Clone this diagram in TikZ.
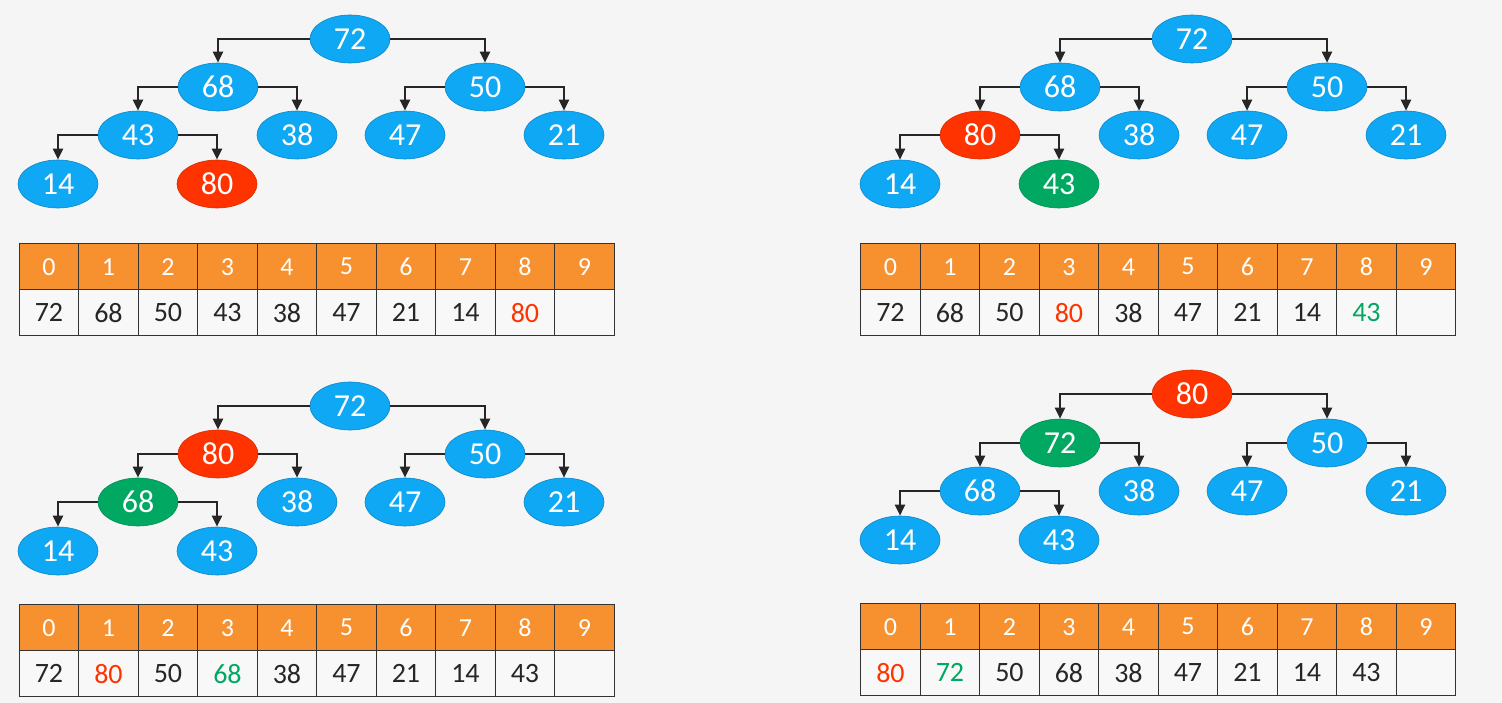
\documentclass[tikz,border=0pt]{standalone}
\usepackage{fontspec}
\setmainfont{Carlito}
\usetikzlibrary{shapes.geometric,arrows.meta}
\definecolor{sfondo}{HTML}{F5F5F5}
\definecolor{blu}{HTML}{0FA8F5}
\definecolor{rosso}{HTML}{FF3300}
\definecolor{verde}{HTML}{00A862}
\definecolor{arancio}{HTML}{F7912F}
\definecolor{bordo}{HTML}{333333}
\definecolor{cella}{HTML}{F8F8F8}
\tikzset{
  nodo/.style={ellipse,minimum width=80pt,minimum height=48pt,inner sep=0pt,
    fill=blu,draw=blu!80!black,line width=0.6pt,text=white,
    font=\fontsize{32}{36}\selectfont},
  nodorosso/.style={nodo,fill=rosso,draw=rosso!85!black},
  nodoverde/.style={nodo,fill=verde,draw=verde!85!black},
  arco/.style={line width=2.4pt,draw=black!85,-{Triangle[length=11pt,width=10pt]}},
  testa/.style={rectangle,anchor=north west,minimum width=59.5pt,minimum height=46pt,
    inner sep=0pt,fill=arancio,draw=bordo,line width=1.4pt,text=white,
    font=\fontsize{26}{30}\selectfont},
  valore/.style={testa,fill=cella,text=black!85,font=\fontsize{28}{32}\selectfont},
}
\begin{document}
\begin{tikzpicture}[x=1pt,y=-1pt]
  \useasboundingbox[fill=sfondo] (0,0) rectangle (1502,703);
  % heap dopo l'inserimento di 80
  \node[nodo] (a0) at (350,39) {72};
  \node[nodo] (a1) at (218,87) {68};  \node[nodo] (a2) at (485,87) {50};
  \node[nodo] (a3) at (138,135) {43}; \node[nodo] (a4) at (297,135) {38};
  \node[nodo] (a5) at (405,135) {47}; \node[nodo] (a6) at (564,135) {21};
  \node[nodo] (a7) at (58,184) {14};  \node[nodorosso] (a8) at (217,184) {80};
  % primo scambio 80 <-> 43
  \node[nodo] (b0) at (1192,39) {72};
  \node[nodo] (b1) at (1060,87) {68};  \node[nodo] (b2) at (1327,87) {50};
  \node[nodorosso] (b3) at (980,135) {80}; \node[nodo] (b4) at (1139,135) {38};
  \node[nodo] (b5) at (1247,135) {47}; \node[nodo] (b6) at (1406,135) {21};
  \node[nodo] (b7) at (900,184) {14};  \node[nodoverde] (b8) at (1059,184) {43};
  % secondo scambio 80 <-> 68
  \node[nodo] (c0) at (350,406) {72};
  \node[nodorosso] (c1) at (218,454) {80}; \node[nodo] (c2) at (485,454) {50};
  \node[nodoverde] (c3) at (138,502) {68}; \node[nodo] (c4) at (297,502) {38};
  \node[nodo] (c5) at (405,502) {47}; \node[nodo] (c6) at (564,502) {21};
  \node[nodo] (c7) at (58,551) {14};  \node[nodo] (c8) at (217,551) {43};
  % terzo scambio 80 <-> 72
  \node[nodorosso] (d0) at (1192,394) {80};
  \node[nodoverde] (d1) at (1060,443) {72}; \node[nodo] (d2) at (1327,443) {50};
  \node[nodo] (d3) at (980,491) {68};  \node[nodo] (d4) at (1139,491) {38};
  \node[nodo] (d5) at (1247,491) {47}; \node[nodo] (d6) at (1406,491) {21};
  \node[nodo] (d7) at (900,540) {14};  \node[nodo] (d8) at (1059,540) {43};
  % archi padre -> figli
  \foreach \t in {a,b,c,d}
    \foreach \p/\l/\r in {0/1/2,1/3/4,2/5/6,3/7/8} {
      \draw[arco] (\t\p.west) -| (\t\l.north);
      \draw[arco] (\t\p.east) -| (\t\r.north);
    }
  % array
  \foreach \t/\x/\y in {a/18.5/243,b/860/243,c/18.5/604,d/860/603}
    \foreach \k in {0,...,9}
      \node[testa] (\t h\k) at (\x+59.5*\k,\y) {\k};
  \foreach \k/\v in {0/72,1/68,2/50,3/43,4/38,5/47,6/21,7/14,8/\textcolor{rosso}{80},9/{}}
    \node[valore] (av\k) at (18.5+59.5*\k,289) {\v};
  \foreach \k/\v in {0/72,1/68,2/50,3/\textcolor{rosso}{80},4/38,5/47,6/21,7/14,8/\textcolor{verde}{43},9/{}}
    \node[valore] (bv\k) at (860+59.5*\k,289) {\v};
  \foreach \k/\v in {0/72,1/\textcolor{rosso}{80},2/50,3/\textcolor{verde}{68},4/38,5/47,6/21,7/14,8/43,9/{}}
    \node[valore] (cv\k) at (18.5+59.5*\k,650) {\v};
  \foreach \k/\v in {0/\textcolor{rosso}{80},1/\textcolor{verde}{72},2/50,3/68,4/38,5/47,6/21,7/14,8/43,9/{}}
    \node[valore] (dv\k) at (860+59.5*\k,649) {\v};
\end{tikzpicture}
\end{document}
